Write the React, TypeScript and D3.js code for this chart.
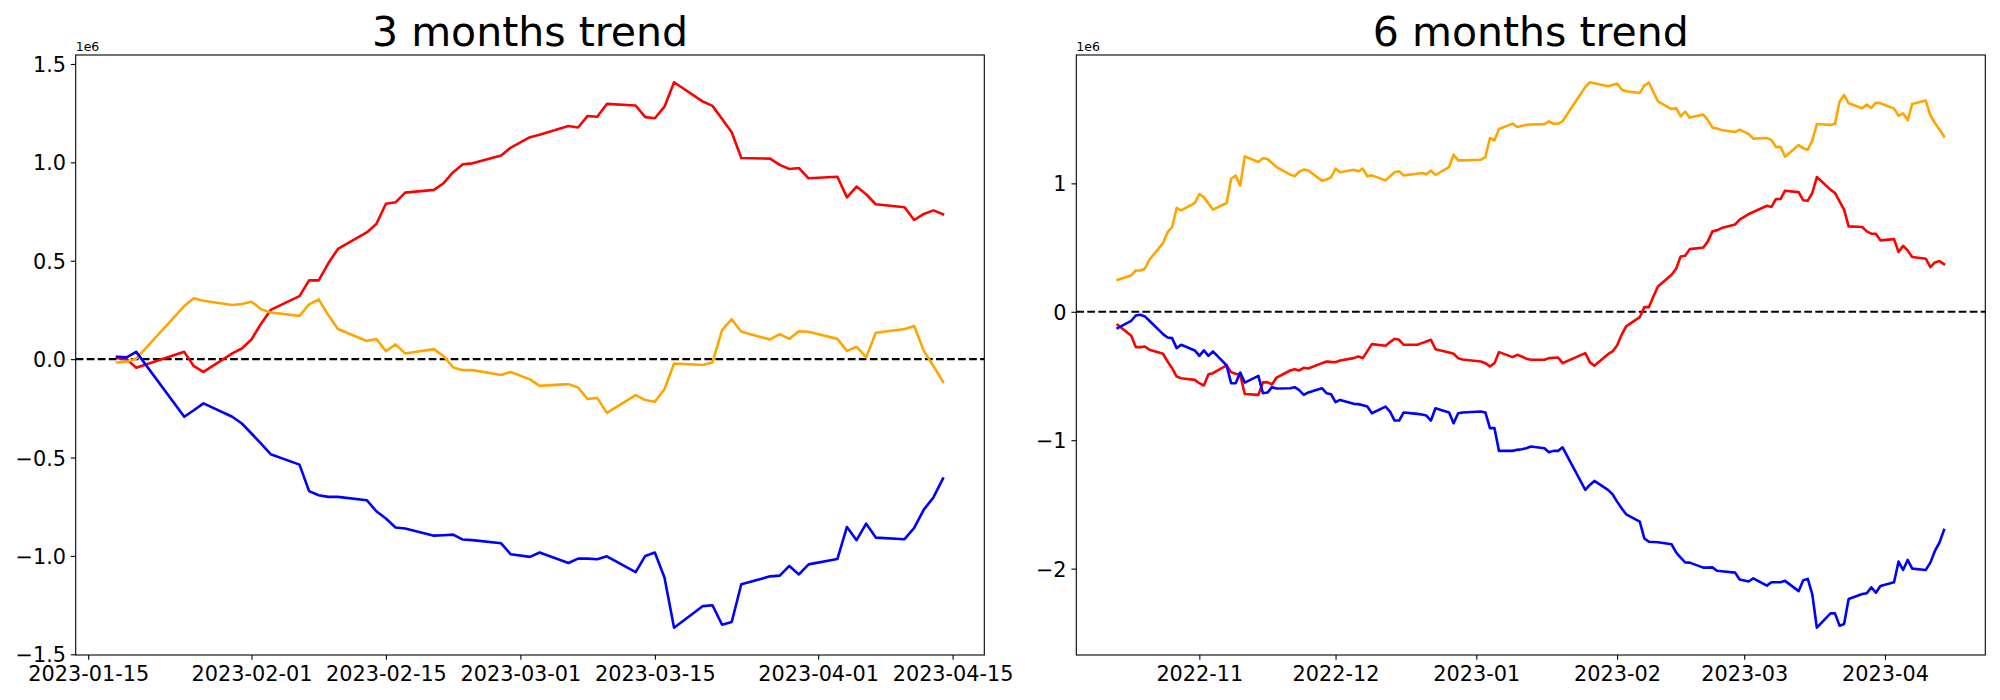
import { useEffect, useRef } from "react"
import * as d3 from "d3"

// trading days (KRX calendar) shown on the 6 months panel
const dates6m = [
    "2022-10-14", "2022-10-17", "2022-10-18", "2022-10-19", "2022-10-20", "2022-10-21", "2022-10-24", "2022-10-25", "2022-10-26", "2022-10-27", "2022-10-28", "2022-10-31",
    "2022-11-01", "2022-11-02", "2022-11-03", "2022-11-04", "2022-11-07", "2022-11-08", "2022-11-09", "2022-11-10", "2022-11-11", "2022-11-14", "2022-11-15", "2022-11-16", "2022-11-17", "2022-11-18", "2022-11-21", "2022-11-22", "2022-11-23", "2022-11-24", "2022-11-25", "2022-11-28", "2022-11-29", "2022-11-30",
    "2022-12-01", "2022-12-02", "2022-12-05", "2022-12-06", "2022-12-07", "2022-12-08", "2022-12-09", "2022-12-12", "2022-12-13", "2022-12-14", "2022-12-15", "2022-12-16", "2022-12-19", "2022-12-20", "2022-12-21", "2022-12-22", "2022-12-23", "2022-12-26", "2022-12-27", "2022-12-28", "2022-12-29",
    "2023-01-02", "2023-01-03", "2023-01-04", "2023-01-05", "2023-01-06", "2023-01-09", "2023-01-10", "2023-01-11", "2023-01-12", "2023-01-13", "2023-01-16", "2023-01-17", "2023-01-18", "2023-01-19", "2023-01-20", "2023-01-25", "2023-01-26", "2023-01-27", "2023-01-30", "2023-01-31",
    "2023-02-01", "2023-02-02", "2023-02-03", "2023-02-06", "2023-02-07", "2023-02-08", "2023-02-09", "2023-02-10", "2023-02-13", "2023-02-14", "2023-02-15", "2023-02-16", "2023-02-17", "2023-02-20", "2023-02-21", "2023-02-22", "2023-02-23", "2023-02-24", "2023-02-27", "2023-02-28",
    "2023-03-02", "2023-03-03", "2023-03-06", "2023-03-07", "2023-03-08", "2023-03-09", "2023-03-10", "2023-03-13", "2023-03-14", "2023-03-15", "2023-03-16", "2023-03-17", "2023-03-20", "2023-03-21", "2023-03-22", "2023-03-23", "2023-03-24", "2023-03-27", "2023-03-28", "2023-03-29", "2023-03-30", "2023-03-31",
    "2023-04-03", "2023-04-04", "2023-04-05", "2023-04-06", "2023-04-07", "2023-04-10", "2023-04-11", "2023-04-12", "2023-04-13", "2023-04-14",
]
// 3 months panel uses the last part of the same calendar
const dates3m = dates6m.slice(dates6m.indexOf("2023-01-18"))

// values are in units of 1e6
const red3m = [
    0.005, 0.0, -0.044, 0.037, -0.036, -0.065, 0.029, 0.054,
    0.1, 0.18, 0.25, 0.32, 0.4, 0.4, 0.487, 0.56, 0.644, 0.687, 0.79, 0.797, 0.846, 0.86, 0.894, 0.95, 0.99, 0.995, 1.035, 1.075,
    1.128, 1.14, 1.185, 1.177, 1.236, 1.232, 1.297, 1.289, 1.23, 1.224, 1.283, 1.407, 1.309, 1.287, 1.22, 1.153, 1.022, 1.019, 0.987, 0.966, 0.971, 0.919,
    0.927, 0.822, 0.877, 0.838, 0.787, 0.772, 0.707, 0.738, 0.756, 0.736,
]
const orange3m = [
    -0.017, -0.014, 0.003, 0.27, 0.309, 0.297, 0.275, 0.28,
    0.292, 0.253, 0.237, 0.22, 0.278, 0.304, 0.224, 0.153, 0.092, 0.102, 0.041, 0.075, 0.029, 0.051, 0.015, -0.042, -0.056, -0.056, -0.081, -0.065,
    -0.103, -0.136, -0.127, -0.144, -0.203, -0.197, -0.273, -0.183, -0.208, -0.217, -0.153, -0.022, -0.03, -0.017, 0.148, 0.203, 0.139, 0.1, 0.127, 0.103, 0.142, 0.139,
    0.103, 0.042, 0.063, 0.009, 0.134, 0.153, 0.168, 0.042, -0.035, -0.115,
]
const blue3m = [
    0.012, 0.009, 0.037, -0.293, -0.26, -0.225, -0.293, -0.327,
    -0.378, -0.429, -0.483, -0.536, -0.671, -0.692, -0.7, -0.7, -0.717, -0.773, -0.81, -0.856, -0.861, -0.897, -0.895, -0.892, -0.917, -0.92, -0.936, -0.992,
    -1.005, -0.983, -1.036, -1.014, -1.014, -1.017, -1.002, -1.082, -1.0, -0.983, -1.11, -1.365, -1.255, -1.251, -1.35, -1.336, -1.144, -1.104, -1.1, -1.051, -1.094, -1.043,
    -1.016, -0.853, -0.92, -0.836, -0.907, -0.915, -0.858, -0.765, -0.703, -0.607,
]

const red6m = [
    -0.101, -0.187, -0.275, -0.275, -0.27, -0.296, -0.327, -0.387, -0.439, -0.504, -0.517, -0.53,
    -0.556, -0.574, -0.486, -0.478, -0.418, -0.47, -0.483, -0.491, -0.64, -0.647, -0.55, -0.548, -0.566, -0.512, -0.457, -0.447, -0.457, -0.436, -0.442, -0.4, -0.387, -0.39,
    -0.392, -0.379, -0.361, -0.348, -0.361, -0.306, -0.252, -0.265, -0.236, -0.21, -0.218, -0.257, -0.257, -0.244, -0.231, -0.218, -0.291, -0.317, -0.327, -0.361, -0.371,
    -0.387, -0.4, -0.426, -0.4, -0.314, -0.353, -0.335, -0.348, -0.365, -0.374, -0.374, -0.361, -0.358, -0.356, -0.4, -0.322, -0.392, -0.421, -0.33, -0.309,
    -0.262, -0.179, -0.114, -0.042, 0.036, 0.036, 0.119, 0.197, 0.288, 0.335, 0.431, 0.436, 0.488, 0.501, 0.548, 0.626, 0.634, 0.652, 0.68, 0.717,
    0.761, 0.777, 0.826, 0.816, 0.878, 0.878, 0.943, 0.932, 0.868, 0.865, 0.925, 1.049, 0.951, 0.925, 0.86, 0.795, 0.665, 0.66, 0.626, 0.608, 0.608, 0.556,
    0.566, 0.465, 0.514, 0.478, 0.426, 0.413, 0.348, 0.384, 0.395, 0.371,
]
const orange6m = [
    0.249, 0.283, 0.322, 0.322, 0.335, 0.405, 0.535, 0.618, 0.66, 0.808, 0.79, 0.847,
    0.917, 0.891, 0.844, 0.795, 0.847, 1.036, 1.06, 0.982, 1.21, 1.166, 1.195, 1.19, 1.158, 1.127, 1.068, 1.055, 1.09, 1.107, 1.1, 1.021, 1.03, 1.047,
    1.114, 1.086, 1.106, 1.094, 1.114, 1.055, 1.062, 1.023, 1.055, 1.086, 1.094, 1.062, 1.075, 1.08, 1.07, 1.099, 1.065, 1.127, 1.223, 1.179, 1.179,
    1.184, 1.205, 1.353, 1.335, 1.423, 1.465, 1.439, 1.447, 1.455, 1.458, 1.461, 1.483, 1.464, 1.465, 1.483, 1.75, 1.787, 1.78, 1.756, 1.766,
    1.777, 1.73, 1.717, 1.704, 1.761, 1.785, 1.71, 1.639, 1.577, 1.587, 1.522, 1.558, 1.512, 1.535, 1.492, 1.435, 1.427, 1.415, 1.4, 1.418,
    1.383, 1.348, 1.353, 1.337, 1.282, 1.285, 1.207, 1.298, 1.274, 1.262, 1.333, 1.462, 1.455, 1.465, 1.635, 1.688, 1.623, 1.584, 1.613, 1.587, 1.628, 1.623,
    1.582, 1.526, 1.545, 1.491, 1.618, 1.645, 1.53, 1.47, 1.42, 1.366,
]
const blue6m = [
    -0.127, -0.07, -0.029, -0.023, -0.036, -0.07, -0.174, -0.2, -0.205, -0.283, -0.257, -0.301,
    -0.343, -0.301, -0.343, -0.309, -0.418, -0.556, -0.556, -0.473, -0.551, -0.499, -0.634, -0.629, -0.587, -0.597, -0.595, -0.587, -0.61, -0.647, -0.628, -0.595, -0.634, -0.642,
    -0.704, -0.686, -0.717, -0.719, -0.727, -0.738, -0.79, -0.738, -0.777, -0.847, -0.847, -0.784, -0.795, -0.8, -0.808, -0.847, -0.751, -0.784, -0.868, -0.79, -0.784,
    -0.777, -0.784, -0.906, -0.906, -1.083, -1.083, -1.075, -1.07, -1.062, -1.049, -1.062, -1.094, -1.083, -1.083, -1.055, -1.387, -1.348, -1.317, -1.387, -1.421,
    -1.478, -1.53, -1.577, -1.634, -1.764, -1.79, -1.792, -1.795, -1.81, -1.873, -1.914, -1.951, -1.953, -1.992, -1.992, -1.99, -2.016, -2.02, -2.031, -2.085,
    -2.1, -2.075, -2.132, -2.106, -2.106, -2.106, -2.095, -2.175, -2.09, -2.08, -2.2, -2.46, -2.348, -2.348, -2.444, -2.431, -2.236, -2.197, -2.192, -2.145, -2.187, -2.135,
    -2.106, -1.945, -2.01, -1.932, -2.0, -2.01, -1.953, -1.862, -1.797, -1.699,
]

const xTicks3m = ["2023-01-15", "2023-02-01", "2023-02-15", "2023-03-01", "2023-03-15", "2023-04-01", "2023-04-15"]
const yTicks3m = [-1.5, -1.0, -0.5, 0.0, 0.5, 1.0, 1.5]
const xTicks6m = ["2022-11-01", "2022-12-01", "2023-01-01", "2023-02-01", "2023-03-01", "2023-04-01"]
const yTicks6m = [-2, -1, 0, 1]

const FONT = "'DejaVu Sans', sans-serif"
const parse = d3.timeParse("%Y-%m-%d")
const minus = (s: string) => s.replace("-", "\u2212")

interface PanelProps {
    title: string
    dates: string[]
    red: number[]
    orange: number[]
    blue: number[]
    xTicks: string[]
    xFormat: string
    yTicks: number[]
    yDigits: number
    left: number
    right: number
}

const Panel: React.FC<PanelProps> = ({ title, dates, red, orange, blue, xTicks, xFormat, yTicks, yDigits, left, right }) => {
    const gRef = useRef<SVGGElement>(null)

    useEffect(() => {
        const top = 55
        const bottom = 655
        const tick = 4.86
        const g = d3.select(gRef.current)
        g.selectAll("*").remove()

        const xs = dates.map(d => parse(d) as Date)
        const t0 = +xs[0]
        const t1 = +xs[xs.length - 1]
        const span = t1 - t0
        const x = d3.scaleTime()
            .domain([new Date(t0 - 0.05 * span), new Date(t1 + 0.05 * span)])
            .range([left, right])

        const all = [...red, ...orange, ...blue]
        const lo = d3.min(all) as number
        const hi = d3.max(all) as number
        const pad = 0.05 * (hi - lo)
        const y = d3.scaleLinear().domain([lo - pad, hi + pad]).range([bottom, top])

        // zero line
        g.append("line")
            .attr("x1", left).attr("x2", right)
            .attr("y1", y(0)).attr("y2", y(0))
            .attr("stroke", "black")
            .attr("stroke-width", 2.08)
            .attr("stroke-dasharray", "7.7,3.33")

        const line = d3.line<number>()
            .x((_, i) => x(xs[i]))
            .y(v => y(v))

        const series: [number[], string][] = [[red, "red"], [orange, "orange"], [blue, "blue"]]
        series.forEach(([vals, color]) => {
            g.append("path")
                .datum(vals)
                .attr("fill", "none")
                .attr("stroke", color)
                .attr("stroke-width", 2.6)
                .attr("stroke-linejoin", "round")
                .attr("stroke-linecap", "square")
                .attr("d", line)
        })

        // frame
        g.append("rect")
            .attr("x", left).attr("y", top)
            .attr("width", right - left).attr("height", bottom - top)
            .attr("fill", "none")
            .attr("stroke", "black")
            .attr("stroke-width", 1.1)

        const fmt = d3.timeFormat(xFormat)
        const gx = g.append("g")
            .attr("transform", `translate(0,${bottom})`)
            .call(d3.axisBottom(x)
                .tickValues(xTicks.map(d => parse(d) as Date))
                .tickFormat(d => fmt(d as Date))
                .tickSizeInner(tick).tickSizeOuter(0).tickPadding(tick))
        gx.select(".domain").remove()
        gx.selectAll("line").attr("stroke-width", 1.1)
        gx.selectAll("text").attr("dy", "0.78em")

        const gy = g.append("g")
            .attr("transform", `translate(${left},0)`)
            .call(d3.axisLeft(y)
                .tickValues(yTicks)
                .tickFormat(d => minus((d as number).toFixed(yDigits)))
                .tickSizeInner(tick).tickSizeOuter(0).tickPadding(tick))
        gy.select(".domain").remove()
        gy.selectAll("line").attr("stroke-width", 1.1)
        gy.selectAll("text").attr("dy", "0.36em")

        for (const ax of [gx, gy]) {
            ax.attr("font-family", FONT).attr("font-size", 20.8)
            ax.selectAll("text").attr("fill", "black")
        }

        g.append("text")
            .attr("x", (left + right) / 2).attr("y", 46)
            .attr("text-anchor", "middle")
            .attr("font-family", FONT).attr("font-size", 41)
            .text(title)

        g.append("text")
            .attr("x", left).attr("y", 50.7)
            .attr("font-family", FONT).attr("font-size", 12.5)
            .text("1e6")
    }, [title, dates, red, orange, blue, xTicks, xFormat, yTicks, yDigits, left, right])

    return <g ref={gRef}></g>
}

export default function App() {
    return (
        <svg width={2000} height={700} viewBox="0 0 2000 700"
            style={{ position: "absolute", left: 0, top: 0, background: "white" }}>
            <rect width={2000} height={700} fill="white" />
            <Panel title="3 months trend" dates={dates3m} red={red3m} orange={orange3m} blue={blue3m}
                xTicks={xTicks3m} xFormat="%Y-%m-%d" yTicks={yTicks3m} yDigits={1} left={75.7} right={984.3} />
            <Panel title="6 months trend" dates={dates6m} red={red6m} orange={orange6m} blue={blue6m}
                xTicks={xTicks6m} xFormat="%Y-%m" yTicks={yTicks6m} yDigits={0} left={1076.3} right={1985.3} />
        </svg>
    )
}
